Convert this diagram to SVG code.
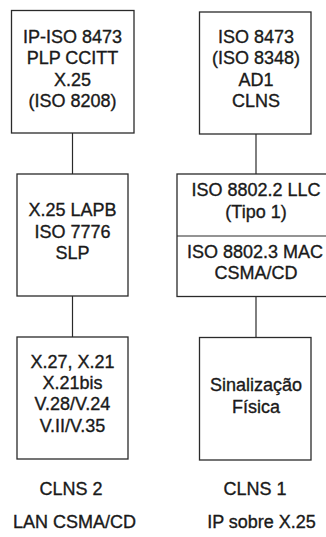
<svg xmlns="http://www.w3.org/2000/svg" width="326" height="537" viewBox="0 0 326 537">
<style>
.box{fill:#ffffff;stroke:#2a2a2a;stroke-width:1.3}
.ln{stroke:#2a2a2a;stroke-width:1.2;fill:none}
text{font-family:"Liberation Sans",Arial,sans-serif;font-size:18px;fill:#1a1a1a;stroke:#1a1a1a;stroke-width:0.35;text-anchor:middle}
</style>
<rect width="326" height="537" fill="#ffffff"/>
<g id="connectors">
<line class="ln" x1="72.5" y1="133" x2="72.5" y2="174"/>
<line class="ln" x1="72.5" y1="296" x2="72.5" y2="337"/>
<line class="ln" x1="256" y1="134" x2="256" y2="174"/>
<line class="ln" x1="256" y1="296.5" x2="256" y2="337.5"/>
</g>
<g id="ip-iso">
<rect class="box" x="11.5" y="10.5" width="122.5" height="122.5"/>
<text x="72.5" y="42.5">IP-ISO 8473</text>
<text x="72.5" y="64">PLP CCITT</text>
<text x="72.5" y="85.5">X.25</text>
<text x="72.5" y="107">(ISO 8208)</text>
</g>
<g id="lapb">
<rect class="box" x="17" y="174" width="111" height="122"/>
<text x="72.5" y="216">X.25 LAPB</text>
<text x="72.5" y="237.5">ISO 7776</text>
<text x="72.5" y="259">SLP</text>
</g>
<g id="x27">
<rect class="box" x="17" y="337" width="111" height="122"/>
<text x="72.5" y="367.5">X.27, X.21</text>
<text x="72.5" y="388.5">X.21bis</text>
<text x="72.5" y="410">V.28/V.24</text>
<text x="72.5" y="431.5">V.II/V.35</text>
</g>
<g id="iso8473">
<rect class="box" x="199.5" y="12" width="111.5" height="122"/>
<text x="256" y="42.5">ISO 8473</text>
<text x="256" y="64">(ISO 8348)</text>
<text x="256" y="85.5">AD1</text>
<text x="256" y="107">CLNS</text>
</g>
<g id="llc-mac">
<rect class="box" x="177" y="174" width="160" height="122.5"/>
<line class="ln" x1="177" y1="236" x2="326" y2="236"/>
<text x="256" y="196">ISO 8802.2 LLC</text>
<text x="256" y="218">(Tipo 1)</text>
<text x="255" y="257.5">ISO 8802.3 MAC</text>
<text x="256" y="278.5">CSMA/CD</text>
</g>
<g id="sinal">
<rect class="box" x="199.5" y="337.5" width="111.5" height="122.5"/>
<text x="256" y="391">Sinalização</text>
<text x="256" y="412.5">Física</text>
</g>
<g id="labels">
<text x="71" y="495">CLNS 2</text>
<text x="74.5" y="528">LAN CSMA/CD</text>
<text x="255" y="495">CLNS 1</text>
<text x="261.5" y="528">IP sobre X.25</text>
</g>
</svg>
